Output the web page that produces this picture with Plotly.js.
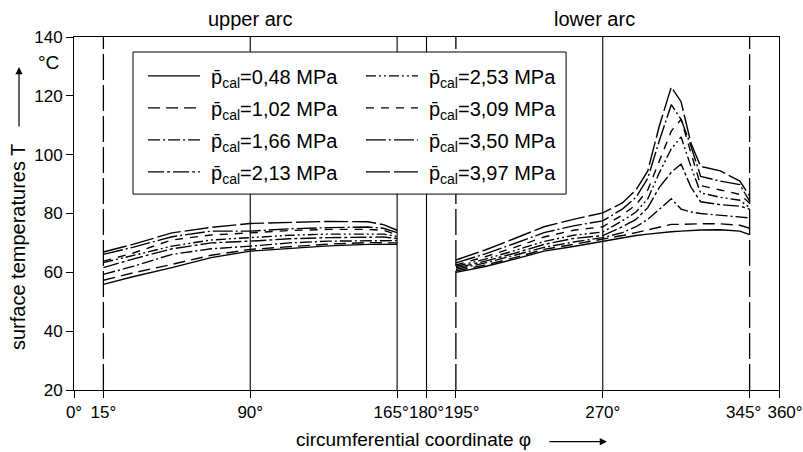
<!DOCTYPE html>
<html>
<head>
<meta charset="utf-8">
<script src="https://cdn.plot.ly/plotly-3.0.1.min.js"></script>
<style>
html,body{margin:0;padding:0;background:#fff;}
#chart{width:803px;height:452px;}
</style>
</head>
<body>
<div id="chart"></div>
<script>
// circumferential coordinate (deg); 180 is the gap between upper and lower arc
const phi = [15, 30, 50, 70, 90, 110, 130, 150, 158, 165, 180,
             195, 210, 225, 240, 255, 270, 280, 287, 293, 299, 305, 310, 315, 320, 330, 340, 345];

const labels = ['0,48', '1,02', '1,66', '2,13', '2,53', '3,09', '3,50', '3,97'];

const T048 = [55.9, 58.5, 61.6, 65.0, 67.2, 68.2, 69.0, 69.5, 69.5, 69.5, null,
              60.0, 62.0, 64.5, 67.2, 68.8, 70.6, 71.8, 72.5, 73.0, 73.5, 73.8, 74.0, 74.2, 74.4, 74.5, 74.0, 72.8];
const T102 = [57.3, 59.8, 62.7, 65.8, 67.8, 68.8, 69.6, 70.1, 70.0, 70.0, null,
              60.5, 62.5, 65.0, 67.8, 69.5, 71.2, 72.5, 73.5, 74.5, 75.5, 76.3, 76.3, 76.5, 76.5, 76.5, 76.0, 75.0];
const T166 = [59.3, 62.0, 66.1, 68.0, 68.9, 70.0, 70.6, 70.6, 70.8, 70.8, null,
              61.0, 63.2, 65.8, 68.5, 70.3, 71.8, 73.5, 75.5, 78.0, 81.5, 85.0, 81.5, 80.5, 80.0, 79.5, 79.0, 78.5];
const T213 = [61.6, 64.5, 68.0, 70.0, 70.6, 71.4, 71.8, 72.0, 72.0, 71.5, null,
              61.5, 63.8, 66.5, 69.5, 71.5, 72.5, 75.5, 78.0, 82.0, 89.0, 94.0, 96.8, 89.0, 84.0, 83.0, 82.5, 81.5];
const T253 = [63.3, 65.8, 68.9, 71.0, 71.8, 72.6, 73.0, 73.1, 73.0, 72.2, null,
              62.0, 64.5, 67.4, 70.5, 72.6, 73.7, 77.5, 80.5, 85.0, 94.0, 102.0, 106.0, 96.0, 87.0, 85.5, 84.5, 82.0];
const T309 = [63.8, 66.5, 71.0, 72.7, 73.4, 74.2, 74.6, 74.6, 74.3, 72.8, null,
              62.5, 65.3, 68.5, 72.0, 74.3, 75.5, 79.5, 83.0, 88.0, 98.0, 108.0, 112.0, 101.0, 89.5, 88.0, 86.5, 83.5];
const T350 = [66.1, 68.5, 72.1, 74.0, 74.0, 74.8, 75.2, 75.4, 75.0, 73.5, null,
              63.2, 66.3, 69.8, 73.5, 75.8, 77.5, 81.5, 85.5, 92.0, 105.0, 117.0, 112.0, 103.0, 92.6, 91.0, 89.8, 84.2];
const T397 = [66.9, 69.5, 73.4, 75.3, 76.6, 77.0, 77.3, 77.2, 76.2, 74.3, null,
              64.2, 67.6, 71.5, 75.5, 78.0, 80.2, 83.6, 88.0, 94.5, 110.0, 123.0, 118.0, 104.0, 96.0, 94.5, 91.0, 86.0];

const series = [T048, T102, T166, T213, T253, T309, T350, T397];

// x tick labels, split in three groups so crowded neighbours can be nudged apart
const tickValsMid = [0, 15, 90, 180, 270];
const tickTextMid = ['0°', '15°', '90°', '180°', '270°'];
const tickValsLeft = [165, 345];
const tickTextLeft = ['165°', '345°'];
const tickValsRight = [195, 360];
const tickTextRight = ['195°', '360°'];
const yTicks = [20, 40, 60, 80, 100, 120, 140];

const dashes = ['solid', '12px,6px', '12px,3px,2px,3px', '16px,3px,3px,3px',
                '10px,3px,2px,3px,2px,3px', '8px,7px', '20px,3px,2px,3px', '24px,4px'];

const FONT = 'Liberation Sans, Arial, sans-serif';

const traces = series.map((vals, i) => ({
  type: 'scatter',
  mode: 'lines',
  x: phi,
  y: vals,
  connectgaps: false,
  name: 'p\u0304<sub>cal</sub>=' + labels[i] + ' MPa',
  legendgroup: 'g' + i,
  line: {color: '#000', width: 1.4, dash: dashes[i]},
  legend: i < 4 ? 'legend' : 'legend2',
  hoverinfo: 'skip'
}));
// empty carriers so the two label-only overlay axes get drawn
['x2', 'x3'].forEach(ax => traces.push({
  type: 'scatter', mode: 'lines', x: [], y: [], xaxis: ax, yaxis: 'y',
  showlegend: false, hoverinfo: 'skip'
}));

const guideSolid = [90, 165, 180, 270];
const guideDashed = [15, 195, 345];

const shapes = [];
guideSolid.forEach(v => shapes.push({type: 'line', xref: 'x', yref: 'paper', x0: v, x1: v, y0: 0, y1: 1,
  line: {color: '#000', width: 1.1}, layer: 'below'}));
guideDashed.forEach(v => shapes.push({type: 'line', xref: 'x', yref: 'paper', x0: v, x1: v, y0: 0, y1: 1,
  line: {color: '#000', width: 1.3, dash: '26px,5px'}, layer: 'below'}));
// legend frame
shapes.push({type: 'rect', xref: 'paper', yref: 'paper', x0: 0.0837, x1: 0.698, y0: 0.555, y1: 0.9575,
  fillcolor: '#fff', line: {color: '#000', width: 1}, layer: 'above'});

const legendCommon = {
  orientation: 'v', bgcolor: 'rgba(0,0,0,0)', borderwidth: 0,
  font: {family: FONT, size: 20, color: '#000'},
  itemwidth: 58, xanchor: 'left', yanchor: 'top', y: 0.945,
  tracegroupgap: 3,
  itemclick: false, itemdoubleclick: false
};

const tickStyle = {
  ticks: 'outside', ticklen: 7, tickwidth: 1, tickcolor: '#000', tickangle: 0,
  showgrid: false, zeroline: false,
  tickfont: {family: FONT, size: 17, color: '#000'}
};

const layout = {
  width: 803, height: 452,
  margin: {l: 74, r: 24, t: 37, b: 62},
  paper_bgcolor: '#fff', plot_bgcolor: '#fff',
  font: {family: FONT, size: 18, color: '#000'},
  showlegend: true,
  legend: Object.assign({}, legendCommon, {x: 0.098}),
  legend2: Object.assign({}, legendCommon, {x: 0.407}),
  xaxis: Object.assign({}, tickStyle, {
    range: [0, 360], tickmode: 'array', tickvals: tickValsMid, ticktext: tickTextMid,
    showline: true, linecolor: '#000', linewidth: 1, mirror: true
  }),
  xaxis2: Object.assign({}, tickStyle, {
    range: [0, 360], overlaying: 'x', anchor: 'y', side: 'bottom',
    tickmode: 'array', tickvals: tickValsLeft, ticktext: tickTextLeft,
    ticklabelshift: -6, ticklabeloverflow: 'allow', showline: false
  }),
  xaxis3: Object.assign({}, tickStyle, {
    range: [0, 360], overlaying: 'x', anchor: 'y', side: 'bottom',
    tickmode: 'array', tickvals: tickValsRight, ticktext: tickTextRight,
    ticklabelshift: 6, ticklabeloverflow: 'allow', showline: false
  }),
  yaxis: Object.assign({}, tickStyle, {
    range: [20, 140], tickmode: 'array', tickvals: yTicks,
    showline: true, linecolor: '#000', linewidth: 1, mirror: true
  }),
  shapes: shapes,
  annotations: [
    {text: 'upper arc', xref: 'x', yref: 'paper', x: 90, y: 1.051, xanchor: 'center', yanchor: 'middle',
     showarrow: false, font: {family: FONT, size: 20}},
    {text: 'lower arc', xref: 'x', yref: 'paper', x: 266, y: 1.051, xanchor: 'center', yanchor: 'middle',
     showarrow: false, font: {family: FONT, size: 20}},
    {text: '°C', xref: 'paper', yref: 'paper', x: -0.0355, y: 0.929, xanchor: 'center', yanchor: 'middle',
     showarrow: false, font: {family: FONT, size: 19}},
    {text: 'surface temperatures T', xref: 'paper', yref: 'paper', x: -0.0794, y: 0.405,
     xanchor: 'center', yanchor: 'middle',
     textangle: -90, showarrow: false, font: {family: FONT, size: 20}},
    {text: '', xref: 'paper', yref: 'paper', x: -0.078, y: 0.915, ax: 0, ay: 61,
     showarrow: true, arrowhead: 2, arrowsize: 1.2, arrowwidth: 1.2, arrowcolor: '#000', standoff: 0},
    {text: 'circumferential coordinate φ', xref: 'paper', yref: 'paper', x: 0.481, y: -0.139,
     xanchor: 'center', yanchor: 'middle', showarrow: false, font: {family: FONT, size: 19}},
    {text: '', xref: 'paper', yref: 'paper', x: 0.756, y: -0.1465, ax: -59, ay: 0,
     showarrow: true, arrowhead: 2, arrowsize: 1.2, arrowwidth: 1.2, arrowcolor: '#000', standoff: 0}
  ]
};

Plotly.newPlot('chart', traces, layout, {staticPlot: true, displayModeBar: false}).then(() => {
  document.querySelectorAll('#chart .legendlines path').forEach(p => p.setAttribute('d', 'M5,0h52'));
});
</script>
</body>
</html>
